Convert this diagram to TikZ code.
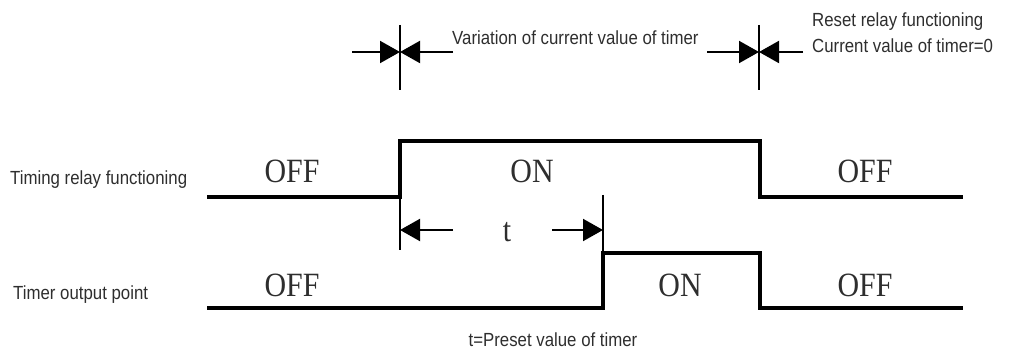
\documentclass[tikz,border=0pt]{standalone}
\usepackage{fontspec}
\usepackage{xcolor}
\usepackage{tikz}
\usetikzlibrary{arrows.meta}
\newfontfamily\narrowsans[FakeStretch=0.885]{Liberation Sans}
\newfontfamily\waveserif[FakeStretch=0.88]{Liberation Serif}
\definecolor{labelgrey}{HTML}{2E2E2E}

\begin{document}
\begin{tikzpicture}[x=1pt,y=-1pt,
  wave/.style={line width=3.2pt,line join=miter},
  tickline/.style={line width=2pt},
  arr/.style={-{Triangle[length=20pt,width=22pt]},line width=2pt},
  lbl/.style={font=\narrowsans\fontsize{19}{21}\selectfont,text=labelgrey,inner sep=0pt},
  state/.style={font=\waveserif\fontsize{34}{36}\selectfont,text=labelgrey,inner sep=0pt}
]
\useasboundingbox (0,0) rectangle (1009,352);

% timing relay signal
\coordinate (r0) at (207,197);
\coordinate (r1) at (400,197);
\coordinate (r2) at (400,141);
\coordinate (r3) at (760,141);
\coordinate (r4) at (760,197);
\coordinate (r5) at (963,197);
\draw[wave] (r0) -- (r1) -- (r2) -- (r3) -- (r4) -- (r5);

% timer output signal
\coordinate (o0) at (207,308);
\coordinate (o1) at (603,308);
\coordinate (o2) at (603,253);
\coordinate (o3) at (760,253);
\coordinate (o4) at (760,308);
\coordinate (o5) at (963,308);
\draw[wave] (o0) -- (o1) -- (o2) -- (o3) -- (o4) -- (o5);

% start / reset markers
\coordinate (s1) at (400,25);
\coordinate (s2) at (400,90);
\coordinate (sa) at (352,52);
\coordinate (sb) at (453,52);
\draw[tickline] (s1) -- (s2);
\draw[arr] (sa) -- (sa -| s1);
\draw[arr] (sb) -- (sb -| s1);

\coordinate (e1) at (759,25);
\coordinate (e2) at (759,90);
\coordinate (ea) at (707,52);
\coordinate (eb) at (803,52);
\draw[tickline] (e1) -- (e2);
\draw[arr] (ea) -- (ea -| e1);
\draw[arr] (eb) -- (eb -| e1);

% preset time t
\coordinate (t1) at (400,250);
\coordinate (t2) at (603,195);
\coordinate (ta) at (453,230);
\coordinate (tb) at (552,230);
\draw[tickline] (r1) -- (t1);
\draw[tickline] (t2) -- (o2);
\draw[arr] (ta) -- (ta -| r1);
\draw[arr] (tb) -- (tb -| t2);

\node[state,anchor=base] (tlbl) at (507,242) {t};
\node[state,anchor=base] (off1) at (292,183) {OFF};
\node[state,anchor=base] (on1) at (532,183) {ON};
\node[state,anchor=base] (off2) at (865,183) {OFF};
\node[state,anchor=base] (off3) at (292,297) {OFF};
\node[state,anchor=base] (on2) at (680,297) {ON};
\node[state,anchor=base] (off4) at (865,297) {OFF};

\node[lbl,anchor=base west] (relaylbl) at (10,185) {Timing relay functioning};
\node[lbl,anchor=base west] (outlbl) at (13,300) {Timer output point};
\node[lbl,anchor=base west] (varlbl) at (452,45) {Variation of current value of timer};
\node[lbl,anchor=base west] (resetlbl) at (812,27) {Reset relay functioning};
\node[lbl,anchor=base west] (curlbl) at (812,53) {Current value of timer=0};
\node[lbl,anchor=base] (presetlbl) at (553,347) {t=Preset value of timer};
\end{tikzpicture}
\end{document}
